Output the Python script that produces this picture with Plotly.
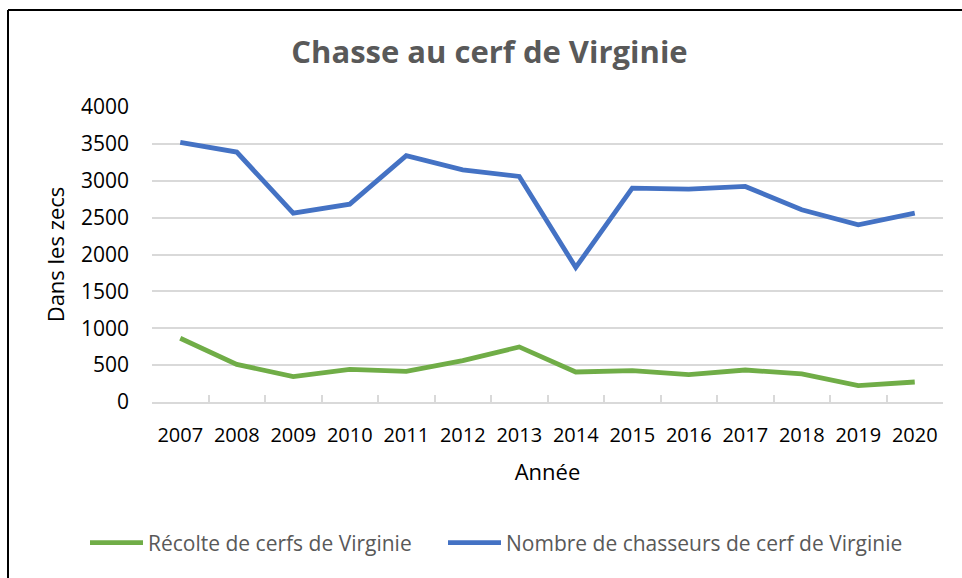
import plotly.graph_objects as go

years = ["2007", "2008", "2009", "2010", "2011", "2012", "2013",
         "2014", "2015", "2016", "2017", "2018", "2019", "2020"]
recolte = [864, 510, 344, 443, 416, 561, 747, 407, 425, 371, 434, 380, 222, 271]
chasseurs = [3520, 3389, 2561, 2683, 3339, 3149, 3059, 1824, 2900, 2887, 2923, 2606, 2403, 2561]

FONT = "Open Sans"
LEG_Y = 1 - 543 / 578

fig = go.Figure()
fig.add_trace(go.Scatter(
    x=years, y=recolte, mode="lines", name="Récolte de cerfs de Virginie",
    line=dict(color="#70ad47", width=4.8), legend="legend"))
fig.add_trace(go.Scatter(
    x=years, y=chasseurs, mode="lines", name="Nombre de chasseurs de cerf de Virginie",
    line=dict(color="#4472c4", width=4.8), legend="legend2"))

leg_common = dict(orientation="h", xref="container", xanchor="left",
                  y=LEG_Y, yref="container", yanchor="middle",
                  font=dict(family=FONT, size=21, color="#595959"),
                  itemwidth=53, bgcolor="rgba(0,0,0,0)")

fig.update_layout(
    width=962, height=578,
    margin=dict(l=152, r=19, t=107, b=176),
    paper_bgcolor="white", plot_bgcolor="white",
    font=dict(family=FONT, color="#000000", size=18),
    title=dict(text="<b>Chasse au cerf de Virginie</b>",
               font=dict(family=FONT, size=31, color="#595959"),
               x=489.5 / 962, xref="container", xanchor="center",
               y=1 - 52 / 578, yref="container", yanchor="middle"),
    showlegend=True,
    legend=dict(x=85 / 962, **leg_common),
    legend2=dict(x=443 / 962, **leg_common),
    xaxis=dict(type="category", range=[-0.5, 13.5], showgrid=False, showline=True,
               linecolor="#d9d9d9", linewidth=1.5, automargin=False,
               ticks="inside", ticklen=7, tickcolor="#d9d9d9", tickwidth=1.5,
               tickson="boundaries", ticklabelstandoff=14, tickangle=0,
               tickfont=dict(family=FONT, size=20, color="#000000"),
               title=dict(text="Année", font=dict(family=FONT, size=22, color="#000000"),
                          standoff=18)),
    yaxis=dict(range=[0, 4000], dtick=500, showgrid=True, gridcolor="#d9d9d9",
               gridwidth=1.5, zeroline=False, showline=False, automargin=False,
               ticks="", ticklabelstandoff=22,
               tickfont=dict(family=FONT, size=21, color="#000000"),
               title=dict(text="Dans les zecs", font=dict(family=FONT, size=22, color="#000000"),
                          standoff=10)),
    shapes=[
        dict(type="line", xref="paper", yref="paper", x0=-144 / 791, x1=-144 / 791,
             y0=(402 - 10) / 295, y1=-(578 - 402) / 295,
             line=dict(color="black", width=2)),
        dict(type="line", xref="paper", yref="paper", x0=-144 / 791, x1=1 + 19 / 791,
             y0=(402 - 10) / 295, y1=(402 - 10) / 295,
             line=dict(color="black", width=2)),
    ],
)

fig.write_html("out.html", config={"displayModeBar": False},
               post_script="document.body.style.margin='0';")
